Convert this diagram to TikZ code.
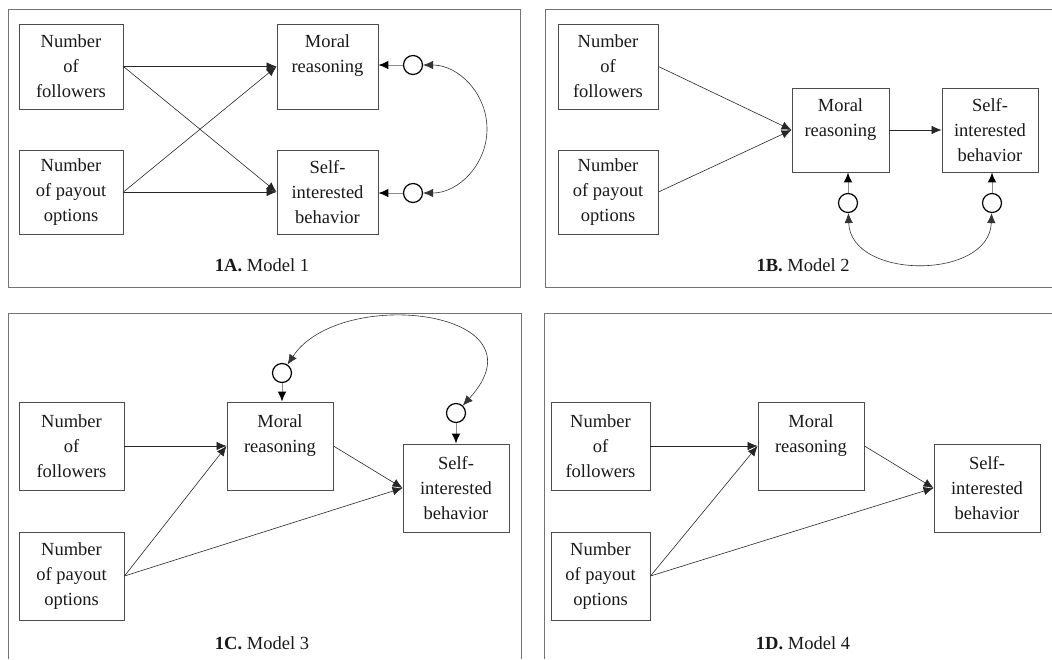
\documentclass[tikz,border=0pt]{standalone}
\usepackage{fontspec}
\setmainfont{Liberation Serif}
\usetikzlibrary{arrows.meta}
\begin{document}
\begin{tikzpicture}[x=1pt,y=-1pt,
  vbox/.style={draw=black!70,line width=0.9pt,rectangle,inner sep=0pt,align=center,
    font=\fontsize{18.5pt}{25pt}\selectfont,text=black!90},
  err/.style={circle,draw=black,line width=1.2pt,minimum size=19pt,inner sep=0pt},
  link/.style={draw=black!85,line width=0.6pt,-{Latex[length=10pt,width=8.5pt]}},
  cov/.style={draw=black!80,line width=0.6pt,{Latex[length=10pt,width=8.5pt]}-{Latex[length=10pt,width=8.5pt]}},
  errlink/.style={draw=black!45,line width=1pt,-{Latex[length=10pt,width=8.5pt,color=black]}},
  frame/.style={draw=black!55,line width=0.9pt},
  captext/.style={font=\fontsize{18.5pt}{25pt}\selectfont,text=black!90,inner sep=0pt}
]
\useasboundingbox (0,0) rectangle (1052,659);

% frames
\draw[frame] (8,9) rectangle (520,287);
\draw[frame] (1052,9) -- (545,9) -- (545,287) -- (1052,287);
\draw[frame] (8,659) -- (8,313) -- (521,313) -- (521,659);
\draw[frame] (1052,313) -- (544,313) -- (544,659);

% ---------- Panel A ----------
\node[vbox,minimum width=104pt,minimum height=85pt] (a1) at (71,66.5) {Number\\of\\followers};
\node[vbox,minimum width=104pt,minimum height=84pt] (a2) at (71,192) {Number\\of payout\\options};
\node[vbox,minimum width=101pt,minimum height=85pt] (a3) at (327.5,66.5) {Moral\\reasoning\\\mbox{}};
\node[vbox,minimum width=101pt,minimum height=84pt] (a4) at (327.5,192) {Self-\\interested\\behavior};
\node[err] (ca1) at (413,65) {};
\node[err] (ca2) at (413,193) {};
\coordinate (amid) at (487,129);
\draw[link] (a1.east) -- (a3.west);
\draw[link] (a1.east) -- (a4.west);
\draw[link] (a2.east) -- (a3.west);
\draw[link] (a2.east) -- (a4.west);
\draw[errlink] (ca1) -- (ca1 -| a3.east);
\draw[errlink] (ca2) -- (ca2 -| a4.east);
\draw[cov] (ca1) to[out=0,in=90,looseness=1] (amid) to[out=-90,in=0,looseness=1] (ca2);
\node[captext] (capA) at (262,265) {\textbf{1A.} Model 1};

% ---------- Panel B ----------
\node[vbox,minimum width=100pt,minimum height=85pt] (b1) at (608,66.5) {Number\\of\\followers};
\node[vbox,minimum width=100pt,minimum height=84pt] (b2) at (608,192) {Number\\of payout\\options};
\node[vbox,minimum width=97pt,minimum height=84pt] (b3) at (840.5,130) {Moral\\reasoning\\\mbox{}};
\node[vbox,minimum width=96pt,minimum height=84pt] (b4) at (990,130) {Self-\\interested\\behavior};
\node[err] (cb1) at (848,203) {};
\node[err] (cb2) at (992,203) {};
\draw[link] (b1.east) -- (b3.west);
\draw[link] (b2.east) -- (b3.west);
\draw[link] (b3.east) -- (b4.west);
\draw[errlink] (cb1) -- (cb1 |- b3.south);
\draw[errlink] (cb2) -- (cb2 |- b4.south);
\draw[cov] (cb1) to[out=-88,in=-92,looseness=1.2] (cb2);
\node[captext] (capB) at (803,265) {\textbf{1B.} Model 2};

% ---------- Panel C ----------
\node[vbox,minimum width=105pt,minimum height=88pt] (c1) at (71.5,446) {Number\\of\\followers};
\node[vbox,minimum width=105pt,minimum height=88pt] (c2) at (71.5,576) {Number\\of payout\\options};
\node[vbox,minimum width=106pt,minimum height=88pt] (c3) at (280,446) {Moral\\reasoning\\\mbox{}};
\node[vbox,minimum width=106pt,minimum height=88pt] (c4) at (456,488) {Self-\\interested\\behavior};
\node[err] (cc1) at (282,373) {};
\node[err] (cc2) at (456,413) {};
\draw[link] (c1.east) -- (c3.west);
\draw[link] (c2.east) -- (c3.west);
\draw[link] (c3.east) -- (c4.west);
\draw[link] (c2.east) -- (c4.west);
\draw[errlink] (cc1) -- (cc1 |- c3.north);
\draw[errlink] (cc2) -- (cc2 |- c4.north);
\draw[cov] (cc1) .. controls (340,285) and (550,310) .. (cc2);
\node[captext] (capC) at (262,643) {\textbf{1C.} Model 3};

% ---------- Panel D ----------
\node[vbox,minimum width=99pt,minimum height=88pt] (d1) at (600.5,446) {Number\\of\\followers};
\node[vbox,minimum width=99pt,minimum height=88pt] (d2) at (600.5,576) {Number\\of payout\\options};
\node[vbox,minimum width=106pt,minimum height=88pt] (d3) at (811,446) {Moral\\reasoning\\\mbox{}};
\node[vbox,minimum width=106pt,minimum height=88pt] (d4) at (987,488) {Self-\\interested\\behavior};
\draw[link] (d1.east) -- (d3.west);
\draw[link] (d2.east) -- (d3.west);
\draw[link] (d3.east) -- (d4.west);
\draw[link] (d2.east) -- (d4.west);
\node[captext] (capD) at (803,643) {\textbf{1D.} Model 4};
\end{tikzpicture}
\end{document}
